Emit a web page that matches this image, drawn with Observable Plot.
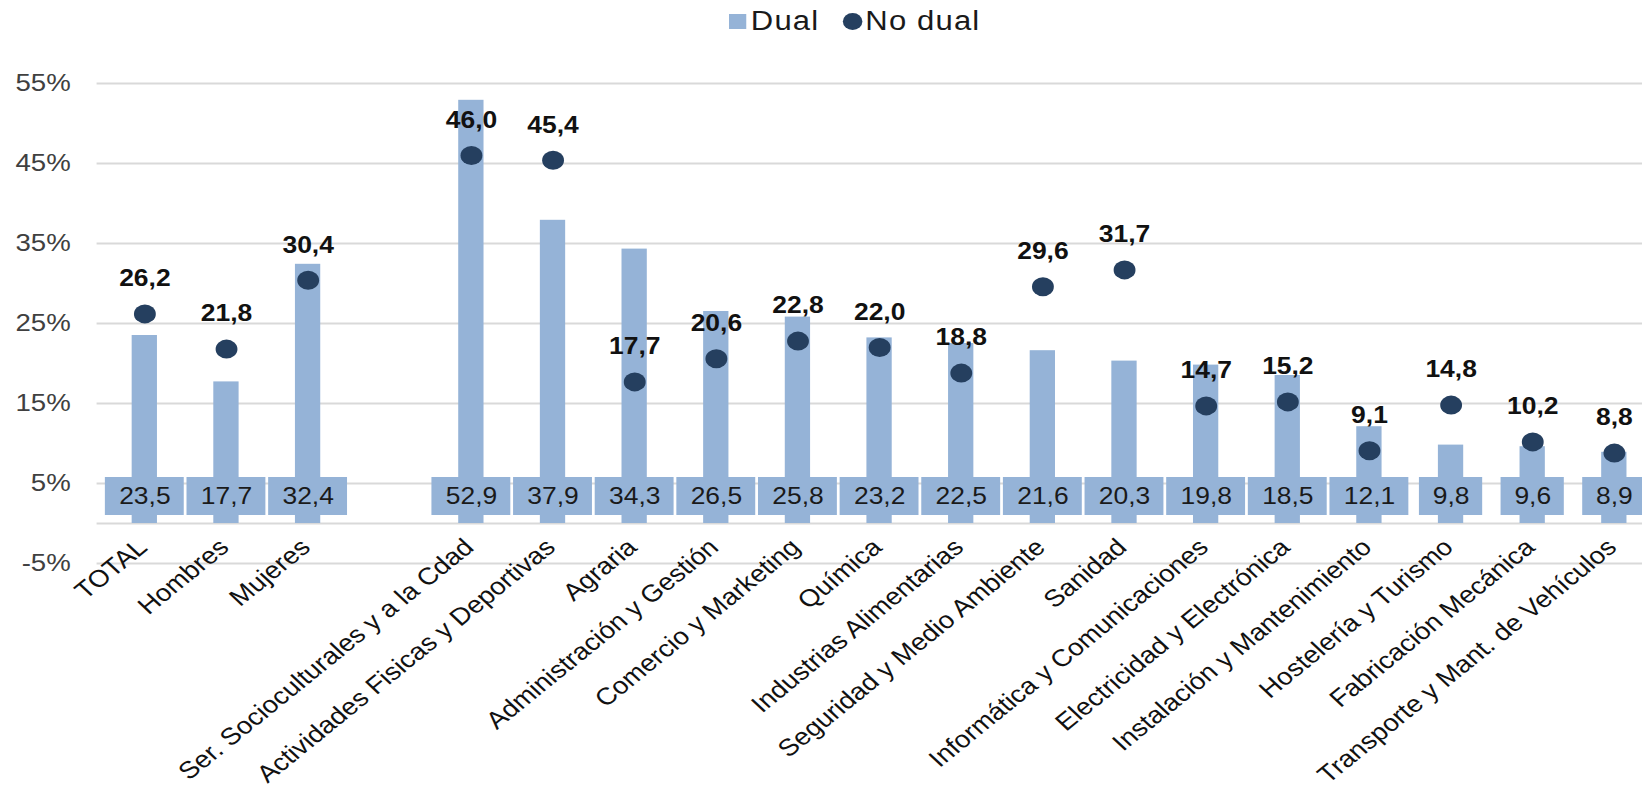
<!DOCTYPE html>
<html>
<head>
<meta charset="utf-8">
<script src="https://cdn.jsdelivr.net/npm/d3@7"></script>
<script src="https://cdn.jsdelivr.net/npm/@observablehq/plot@0.6"></script>
<style>
  html, body { margin: 0; padding: 0; background: white; overflow: hidden; }
  #wrap { width: 1428px; transform: scaleX(1.14986); transform-origin: 0 0; font-family: "Liberation Sans", Arial, sans-serif; }
  #legend { height: 42px; display: flex; align-items: center; margin-left: 634px; font-size: 27px; letter-spacing: 1px; color: #1a1a1a; }
  #legend .sq { width: 15px; height: 15px; background: #95B3D7; margin-right: 4px; }
  #legend .dt { width: 17px; height: 17px; border-radius: 50%; background: #253F5F; margin-left: 20px; margin-right: 3px; }
</style>
</head>
<body>
<div id="wrap">
  <div id="legend"><span class="sq"></span><span>Dual</span><span class="dt"></span><span>No dual</span></div>
  <div id="chart"></div>
</div>
<script>
const categories = ["TOTAL", "Hombres", "Mujeres", " ",
  "Ser. Socioculturales y a la Cdad", "Actividades Fisicas y Deportivas", "Agraria",
  "Administración y Gestión", "Comercio y Marketing", "Química", "Industrias Alimentarias",
  "Seguridad y Medio Ambiente", "Sanidad", "Informática y Comunicaciones",
  "Electricidad y Electrónica", "Instalación y Mantenimiento", "Hostelería y Turismo",
  "Fabricación Mecánica", "Transporte y Mant. de Vehículos"];
const dual   = [23.5, 17.7, 32.4, null, 52.9, 37.9, 34.3, 26.5, 25.8, 23.2, 22.5, 21.6, 20.3, 19.8, 18.5, 12.1, 9.8, 9.6, 8.9];
const noDual = [26.2, 21.8, 30.4, null, 46.0, 45.4, 17.7, 20.6, 22.8, 22.0, 18.8, 29.6, 31.7, 14.7, 15.2, 9.1, 14.8, 10.2, 8.8];
const yTicks = [-5, 5, 15, 25, 35, 45, 55];

const fmt = v => v.toFixed(1).replace(".", ",");
const rows = categories.map((c, i) => ({cat: c, dual: dual[i], nodual: noDual[i]}));
const dRows = rows.filter(d => d.dual != null);
const nRows = rows.filter(d => d.nodual != null);
const long = dRows.filter(d => fmt(d.dual).length > 3);
const short = dRows.filter(d => fmt(d.dual).length <= 3);

const barColor = "#95B3D7";
const dotColor = "#253F5F";

const chart = Plot.plot({
  width: 1428,
  height: 751,
  marginLeft: 84, marginRight: 0, marginTop: 41, marginBottom: 230,
  style: {fontFamily: "'Liberation Sans', Arial, sans-serif", background: "white", overflow: "visible"},
  x: {domain: categories, range: [84, 1445], padding: 0, axis: null},
  y: {domain: [-5, 55], range: [521, 41], axis: null},
  marks: [
    Plot.ruleY(yTicks, {stroke: "#d9d9d9", strokeWidth: 2}),
    Plot.ruleY([0], {stroke: "#d9d9d9", strokeWidth: 2}),
    Plot.axisY({ticks: yTicks, tickSize: 0, tickPadding: 23, tickFormat: d => d + "%", fontSize: 24, color: "#404040", label: null}),
    Plot.barY(dRows, {x: "cat", y: "dual", fill: barColor, insetLeft: 24.5, insetRight: 24.5}),
    Plot.barY(long, {x: "cat", y1: 1, y2: 5.75, fill: barColor, insetLeft: 1.2, insetRight: 1.2}),
    Plot.barY(short, {x: "cat", y1: 1, y2: 5.75, fill: barColor, insetLeft: 8, insetRight: 8}),
    Plot.text(dRows, {x: "cat", y: 3.375, text: d => fmt(d.dual), fontSize: 23, fill: "#1a1a1a", lineAnchor: "middle"}),
    Plot.dot(nRows, {x: "cat", y: "nodual", r: 9.5, fill: dotColor}),
    Plot.text(nRows, {x: "cat", y: "nodual", text: d => fmt(d.nodual), dy: -35, fontSize: 23, fontWeight: "bold", fill: "#111", lineAnchor: "middle"}),
    Plot.text(categories.filter(c => c.trim() !== ""), {x: d => d, frameAnchor: "bottom", rotate: -43, textAnchor: "end", lineAnchor: "middle", dx: -2, dy: -20, fontSize: 24, fill: "#111"})
  ]
});
document.getElementById("chart").appendChild(chart);
</script>
</body>
</html>
